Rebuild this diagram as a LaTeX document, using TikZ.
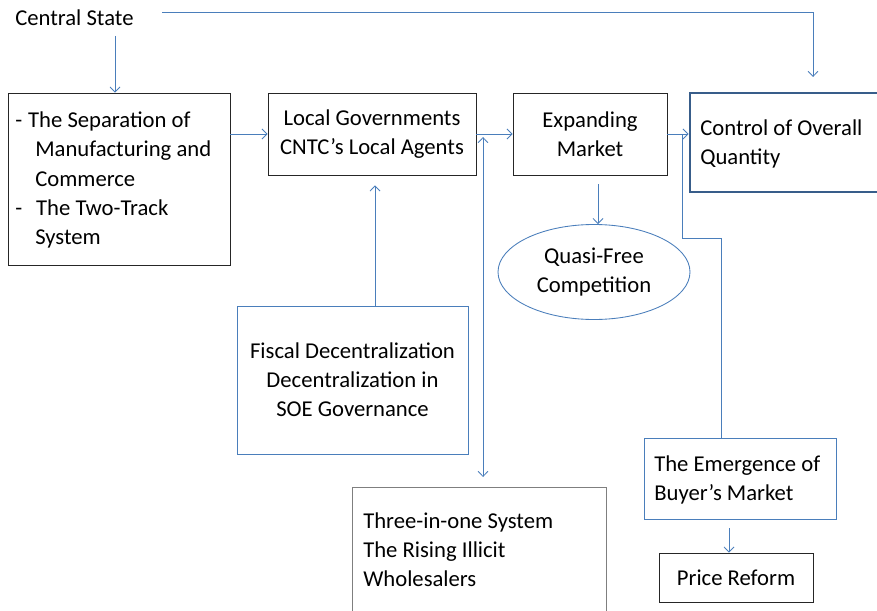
\documentclass[tikz,border=0pt]{standalone}
\usepackage{fontspec}
\setmainfont{Carlito}
\usetikzlibrary{arrows.meta,calc,shapes.geometric}
\definecolor{linkblue}{HTML}{4A7EBB}
\definecolor{frameblue}{HTML}{385D8A}
\definecolor{darkframe}{HTML}{262626}
\definecolor{greyframe}{HTML}{7F7F7F}
\newdimen\pxu \pxu=0.75pt
\newcommand\hang{\hspace*{15pt}}
\begin{document}
\begin{tikzpicture}[x=0.75pt,y=-0.75pt,
  every node/.style={font=\fontsize{17}{21.8}\selectfont, inner sep=0pt},
  plainbox/.style={draw=darkframe, line width=0.65pt, rectangle},
  bluebox/.style={draw=linkblue, line width=0.65pt, rectangle},
  greybox/.style={draw=greyframe, line width=0.65pt, rectangle},
  keybox/.style={draw=frameblue, line width=2pt, rectangle},
  lefttext/.style={anchor=west, align=left},
  link/.style={draw=linkblue, line width=0.65pt},
  arr/.style={link, -{Straight Barb[length=3.8pt,width=7.5pt]}},
  darr/.style={link, {Straight Barb[length=3.8pt,width=7.5pt]}-{Straight Barb[length=3.8pt,width=7.5pt]}}]
\useasboundingbox (0,0) rectangle (877,610);

% source of the top-level policy
\node[anchor=west] (cs) at (15,18) {Central State};

% boxes
\node[plainbox, minimum width=222\pxu, minimum height=172\pxu] (sep) at (119,179) {};
\node[lefttext] (septxt) at (15,180)
  {-\hspace{4.5pt}The Separation of\\
   \hang Manufacturing and\\
   \hang Commerce\\
   -\hspace{10.5pt}The Two-Track\\
   \hang System};
\node[plainbox, minimum width=208\pxu, minimum height=82\pxu, align=center] (loc) at (372,134)
  {Local Governments\\CNTC’s Local Agents};
\node[bluebox, minimum width=231\pxu, minimum height=148\pxu, align=center] (fis) at (352.5,380)
  {Fiscal Decentralization\\Decentralization in\\SOE Governance};
\node[greybox, minimum width=254\pxu, minimum height=128\pxu] (three) at (479,551) {};
\node[lefttext] (threetxt) at (363,550)
  {Three-in-one System\\The Rising Illicit\\Wholesalers};
\node[plainbox, minimum width=154\pxu, minimum height=82\pxu, align=center] (exp) at (590,134)
  {Expanding\\Market};
\node[draw=linkblue, line width=0.65pt, ellipse, minimum width=192\pxu, minimum height=95\pxu, align=center] (qfc) at (594,272)
  {Quasi-Free\\Competition};
\node[keybox, minimum width=204\pxu, minimum height=99\pxu] (ctl) at (792,142.5) {};
\node[lefttext] (ctltxt) at (700,144)
  {Control of Overall\\Quantity};
\node[bluebox, minimum width=192\pxu, minimum height=81\pxu] (emg) at (740,478.5) {};
\node[lefttext] (emgtxt) at (654,480)
  {The Emergence of\\Buyer’s Market};
\node[plainbox, minimum width=154\pxu, minimum height=49\pxu, align=center] (prc) at (736,577.5)
  {Price Reform};

% free ends of connectors
\coordinate (topstart) at (162,12);
\coordinate (ctlin) at (813,77);
\coordinate (midtop) at (483,137);
\coordinate (midbot) at (483,477);
\coordinate (bend) at (682,238);

% connectors
\draw[arr] (cs.east -| 115,0) ++(0,18) -- (sep.north -| 115,0);
\draw[arr] (topstart) -| (ctlin);
\draw[arr] (sep.east |- loc.west) -- (loc.west);
\draw[arr] (loc.east) -- (exp.west);
\draw[darr] (midtop) -- (midbot);
\draw[arr] (fis.north -| 375,0) -- ($(loc.south -| 375,0)+(0,10)$);
\draw[arr] ($(exp.south -| 598,0)+(0,9)$) -- (qfc.north -| 598,0);
\draw[arr] (exp.east) -- (ctl.west |- exp.east);
\draw[link] (emg.north -| 721,0) |- (bend) -- (bend |- exp.east);
\draw[arr] ($(emg.south -| 729,0)+(0,9)$) -- (prc.north -| 729,0);
\end{tikzpicture}
\end{document}
